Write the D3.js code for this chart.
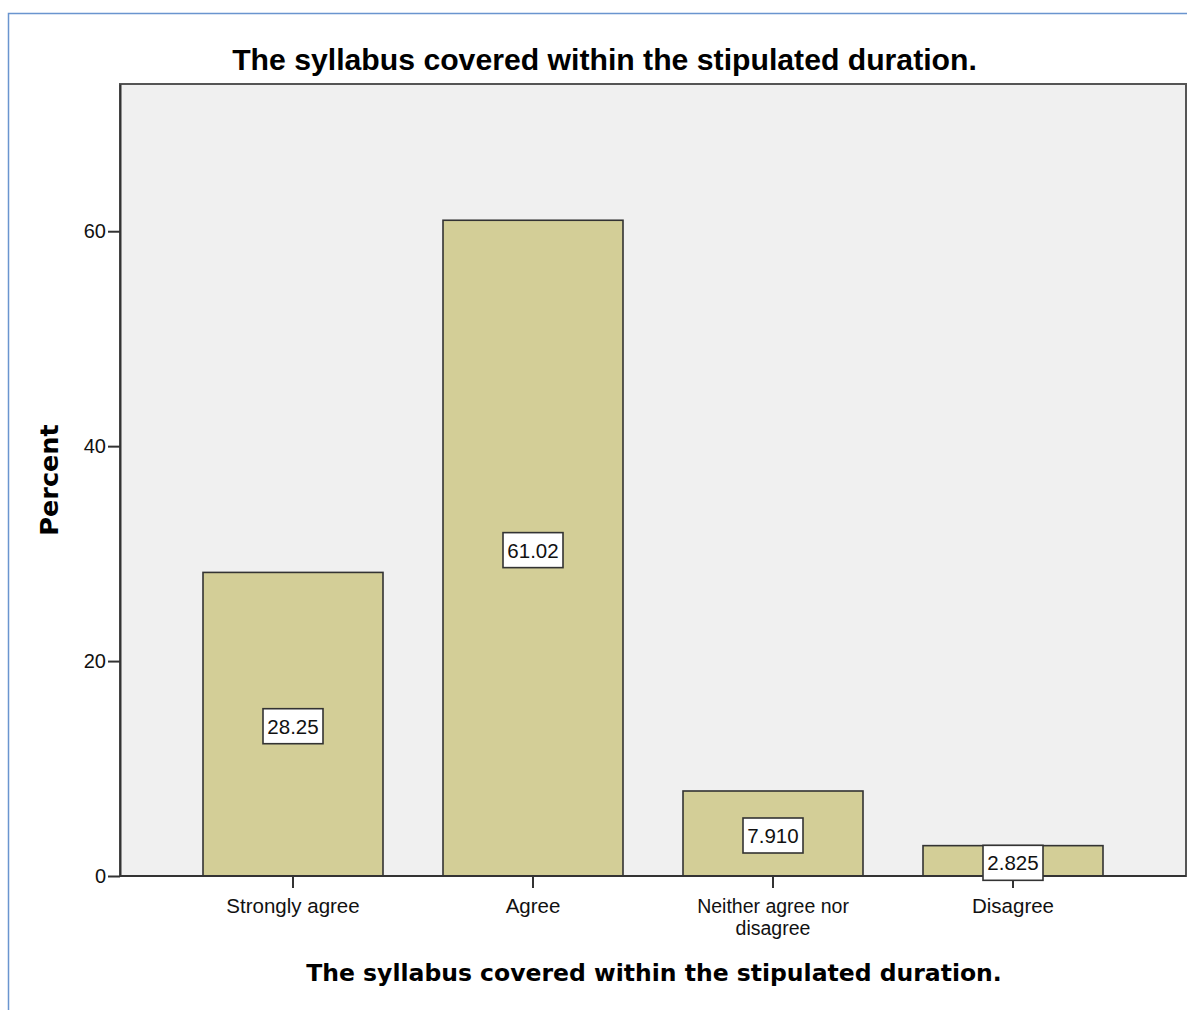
<!DOCTYPE html>
<html><head><meta charset="utf-8">
<script src="https://cdn.jsdelivr.net/npm/d3@7"></script>
<style>body{margin:0;background:#fff;} svg{display:block;}</style>
</head><body>
<svg id="c" width="1187" height="1010"></svg>
<script>
const categories = ["Strongly agree", "Agree", "Neither agree nor|disagree", "Disagree"];
const values = [28.25, 61.02, 7.91, 2.825];
const valueLabels = ["28.25", "61.02", "7.910", "2.825"];
const yTicks = [0, 20, 40, 60];
const title = "The syllabus covered within the stipulated duration.";
const yTitle = "Percent";

const svg = d3.select("#c");
const L = 120, R = 1186, T = 84, B = 876;

// outer frame
svg.append("rect").attr("x", 8.5).attr("y", 13.5).attr("width", 1300).attr("height", 1100)
  .attr("fill", "#fff").attr("stroke", "#6a95cf").attr("stroke-width", 1.5);

const y = d3.scaleLinear().domain([0, 73.7]).range([B, T]);
const x = d3.scaleBand().domain(categories).range([173, 1133]).paddingInner(0.25).paddingOuter(0.125);

// plot background
svg.append("rect").attr("x", L).attr("y", T).attr("width", R - L).attr("height", B - T)
  .attr("fill", "#f0f0f0").attr("stroke", "#555").attr("stroke-width", 2);

// bars
svg.selectAll("rect.bar").data(values).enter().append("rect").attr("class", "bar")
  .attr("x", (d, i) => x(categories[i]))
  .attr("y", d => y(d))
  .attr("width", x.bandwidth())
  .attr("height", d => y(0) - y(d))
  .attr("fill", "#d3ce97").attr("stroke", "#333").attr("stroke-width", 1.6);

// y axis
const yAxis = d3.axisLeft(y).tickValues(yTicks).tickSize(12).tickSizeOuter(0).tickPadding(2).tickFormat(d3.format("d"));
const ga = svg.append("g").attr("transform", `translate(${L},0)`).call(yAxis);
ga.select(".domain").attr("stroke", "#333").attr("stroke-width", 2);
ga.selectAll(".tick line").attr("stroke", "#333").attr("stroke-width", 2);
ga.selectAll(".tick text").attr("font-family", "Liberation Sans, Arial, sans-serif").attr("font-size", 20).attr("fill", "#111");

// x axis
const xAxis = d3.axisBottom(x).tickSize(12).tickSizeOuter(0).tickFormat("");
const gx = svg.append("g").attr("transform", `translate(0,${B})`).call(xAxis);
gx.select(".domain").remove();
gx.selectAll(".tick line").attr("stroke", "#333").attr("stroke-width", 2);
svg.append("line").attr("x1", L).attr("x2", R).attr("y1", B).attr("y2", B).attr("stroke", "#333").attr("stroke-width", 2);

gx.selectAll(".tick").each(function(d) {
  const lines = d.split("|");
  const fs = lines.length > 1 ? 19.5 : 20.5;
  lines.forEach((ln, k) => d3.select(this).append("text").attr("x", 0).attr("y", 37 + k * 22)
    .attr("text-anchor", "middle")
    .attr("font-family", "Liberation Sans, Arial, sans-serif").attr("font-size", fs).attr("fill", "#111")
    .text(ln));
});

// value labels
const lab = svg.selectAll("g.lab").data(values).enter().append("g").attr("class", "lab")
  .attr("transform", (d, i) => `translate(${x(categories[i]) + x.bandwidth() / 2},${y(d / 2) + 2})`);
lab.append("rect").attr("x", -30).attr("y", -17.5).attr("width", 60).attr("height", 35)
  .attr("fill", "#fff").attr("stroke", "#333").attr("stroke-width", 1.6);
lab.append("text").attr("text-anchor", "middle").attr("dy", "0.36em")
  .attr("font-family", "Liberation Sans, Arial, sans-serif").attr("font-size", 20.5).attr("fill", "#111")
  .text((d, i) => valueLabels[i]);

// titles
svg.append("text").attr("x", 604.5).attr("y", 70).attr("text-anchor", "middle")
  .attr("font-family", "Liberation Sans, Arial, sans-serif").attr("font-weight", "bold").attr("font-size", 30.2)
  .attr("fill", "#000").text(title);
svg.append("text").attr("x", 654).attr("y", 981).attr("text-anchor", "middle")
  .attr("font-family", "DejaVu Sans, sans-serif").attr("font-weight", "bold").attr("font-size", 23.5)
  .attr("fill", "#000").text(title);
svg.append("text").attr("transform", "translate(58,480) rotate(-90)").attr("text-anchor", "middle")
  .attr("font-family", "DejaVu Sans, sans-serif").attr("font-weight", "bold").attr("font-size", 25.5)
  .attr("fill", "#000").text(yTitle);
</script>
</body></html>
